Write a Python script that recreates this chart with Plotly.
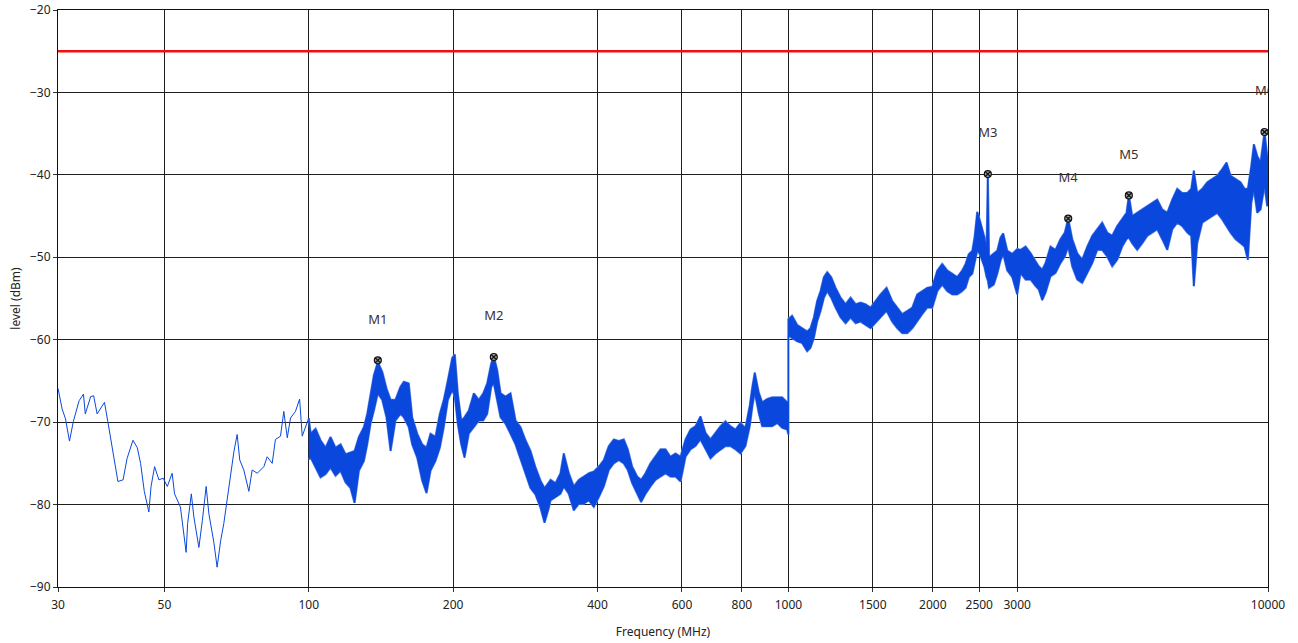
import plotly.graph_objects as go

# ---------------- data ----------------
# low-frequency part (single trace)
freq_lf = [30.0, 30.6, 31.1, 31.7, 32.3, 33.2, 33.9, 34.2, 35.1, 35.6, 36.2, 37.5, 38.1, 38.7,
           40.0, 41.0, 41.8, 43.0, 43.9, 44.6, 45.4, 46.4, 46.9, 47.7, 48.7, 49.7, 50.7, 51.9,
           52.5, 54.0, 54.7, 55.5, 55.9, 56.9, 57.6, 59.0, 60.0, 61.1, 61.9, 63.4, 64.4, 65.5,
           66.5, 67.6, 68.7, 69.8, 70.9, 71.8, 73.2, 75.0, 76.2, 78.1, 80.6, 81.9, 83.9, 85.2,
           87.3, 88.7, 90.2, 91.6, 93.8, 95.7, 96.9, 98.5]
level_lf = [-65.9, -68.4, -69.6, -72.3, -69.9, -67.4, -66.6, -69.0, -66.9, -66.8, -69.0, -67.6,
            -69.9, -72.3, -77.2, -77.0, -74.4, -72.2, -73.1, -75.0, -78.4, -80.9, -77.8, -75.4,
            -77.0, -76.8, -77.8, -76.2, -78.7, -80.3, -83.1, -85.8, -82.3, -78.7, -81.5, -85.2,
            -81.9, -77.8, -81.1, -84.6, -87.6, -84.4, -82.3, -79.5, -76.2, -73.6, -71.5, -74.6,
            -75.8, -78.4, -75.8, -76.2, -75.4, -74.2, -75.0, -72.1, -71.7, -68.7, -71.9, -69.5,
            -68.7, -67.2, -71.7, -70.5]

# higher-frequency part: noisy band, upper and lower envelope (dBm)
freq_hf = [100.0, 100.9, 103.3, 105.8, 108.4, 111.0, 113.7, 116.5, 119.3, 122.2, 124.6, 127.2,
           130.3, 132.4, 134.5, 136.7, 139.3, 142.3, 145.2, 148.1, 151.6, 155.3, 157.8, 161.6,
           164.3, 168.3, 172.4, 176.0, 179.4, 183.7, 187.6, 191.2, 195.0, 199.1, 201.6, 204.5,
           207.9, 211.2, 215.6, 220.9, 226.2, 231.1, 235.5, 240.1, 243.1, 247.1, 251.1, 257.2,
           263.4, 269.8, 276.3, 283.1, 289.9, 297.0, 304.2, 310.1, 316.6,
           319.2, 326.9, 334.8, 340.2, 348.5, 356.9, 365.6, 374.4, 383.6, 392.9, 402.4, 412.2,
           422.3, 432.5, 443.0, 453.7, 462.5, 472.4, 483.9, 493.2, 503.6, 515.8, 528.3, 541.2,
           554.3, 567.8, 581.5, 595.8, 610.3, 625.1, 640.2, 655.7, 671.7, 688.0, 704.6, 721.7,
           739.2, 757.2, 775.6, 794.3, 813.6, 830.6, 841.6, 851.0, 867.4, 881.7, 903.1, 925.0,
           947.9, 970.8, 994.3, 1000.0, 1000.0,
           1018, 1043, 1068, 1094, 1112, 1130, 1148, 1167, 1186, 1205, 1228, 1254, 1285, 1316,
           1348, 1381, 1414, 1448, 1484, 1520, 1556, 1602, 1646, 1687, 1727, 1770, 1813, 1856,
           1901, 1948, 1995, 2044, 2093, 2144, 2196, 2249, 2304, 2341, 2378, 2418, 2444, 2476,
           2507, 2536, 2564, 2590, 2605, 2620, 2681, 2726, 2769, 2805, 2860, 2929, 3000,
           3048, 3123, 3199, 3277, 3327, 3383, 3437, 3520, 3605, 3693, 3770, 3832, 3907, 4001,
           4098, 4199, 4301, 4405, 4511, 4621, 4734, 4848, 4966, 5070, 5127, 5211, 5337, 5466,
           5601, 5737, 5876, 6018, 6165, 6315, 6468, 6625, 6787, 6918, 7004, 7118, 7291, 7468,
           7650, 7836, 8027, 8195, 8353, 8558, 8766, 8936, 9079, 9229, 9344, 9496, 9649, 9835,
           9963, 10000]
level_hi = [-69.5, -71.4, -70.8, -72.2, -73.1, -71.8, -73.1, -72.7, -73.9, -73.7, -73.5, -71.8,
            -70.6, -69.0, -66.5, -64.3, -62.7, -63.9, -65.9, -67.3, -67.3, -65.7, -65.1, -65.3,
            -69.4, -71.4, -72.7, -73.1, -71.4, -71.8, -69.0, -67.3, -64.9, -62.2, -61.8, -66.5,
            -69.8, -69.4, -68.6, -66.5, -67.3, -66.5, -65.3, -62.9, -62.0, -63.7, -66.5, -66.9,
            -66.5, -69.8, -70.6, -72.2, -73.5, -75.5, -77.1, -78.0, -77.3,
            -77.0, -77.4, -76.2, -73.8, -76.2, -77.8, -77.0, -76.6, -76.2, -76.0, -75.4, -74.6,
            -72.9, -72.1, -72.3, -72.1, -73.3, -75.4, -76.6, -77.0, -76.2, -75.0, -74.2, -73.3,
            -73.3, -74.2, -73.8, -74.2, -72.1, -70.9, -70.5, -69.3, -71.3, -72.1, -71.3, -70.5,
            -69.9, -70.5, -70.9, -70.1, -70.7, -68.0, -65.6, -64.0, -66.4, -67.6, -67.2, -67.0,
            -67.0, -67.0, -67.6, -67.6, -57.5,
            -57.1, -58.2, -58.6, -59.0, -58.6, -57.3, -55.3, -54.1, -52.4, -51.8, -52.4, -53.7,
            -54.9, -55.7, -54.9, -55.7, -55.5, -55.7, -56.1, -55.3, -54.5, -53.7, -55.3, -56.1,
            -56.9, -56.5, -56.1, -54.5, -54.1, -53.7, -53.6, -51.6, -50.8, -51.6, -52.0, -52.4,
            -51.6, -50.8, -49.6, -49.2, -47.6, -44.5, -45.5, -46.7, -47.6, -49.2, -39.9, -50.0,
            -49.6, -49.2, -47.6, -47.1, -49.2, -49.6, -49.0,
            -49.1, -48.7, -49.5, -50.5, -51.1, -51.5, -50.7, -48.7, -49.1, -47.8, -47.0, -45.3,
            -47.8, -49.5, -50.3, -48.7, -47.4, -46.6, -45.8, -47.0, -47.4, -46.2, -45.4, -44.6,
            -42.5, -45.0, -44.6, -44.2, -43.8, -43.4, -43.0, -44.2, -44.6, -43.0, -41.7, -42.2,
            -42.2, -41.7, -39.5, -42.2, -41.7, -40.9, -40.5, -40.1, -39.3, -38.5, -40.1, -40.5,
            -40.9, -41.7, -41.7, -38.9, -36.3, -37.7, -38.5, -34.8, -37.7, -39.7]
level_lo = [-74.5, -74.3, -75.5, -76.7, -76.3, -75.5, -76.5, -75.9, -77.3, -78.0, -79.8, -75.9,
            -74.7, -72.7, -70.2, -68.6, -66.5, -67.3, -69.4, -73.5, -69.8, -69.0, -69.4, -70.6,
            -72.7, -74.3, -77.1, -78.6, -75.9, -74.7, -73.1, -70.6, -67.3, -66.1, -66.9, -70.2,
            -72.7, -74.3, -71.4, -70.6, -69.8, -69.8, -69.0, -65.7, -65.3, -67.3, -69.4, -70.2,
            -71.4, -72.7, -74.3, -76.3, -78.0, -78.8, -80.4, -82.2, -80.4,
            -79.5, -79.1, -78.7, -77.8, -78.7, -80.7, -79.9, -79.9, -79.5, -80.3, -79.1, -77.8,
            -75.8, -75.0, -74.6, -75.0, -75.8, -77.4, -78.7, -79.7, -78.7, -77.8, -77.0, -76.6,
            -76.2, -76.6, -76.6, -77.2, -74.2, -73.3, -72.9, -72.1, -73.3, -74.4, -73.8, -73.3,
            -72.9, -72.9, -73.3, -73.8, -72.9, -70.5, -68.0, -66.4, -68.9, -70.5, -70.5, -70.5,
            -70.1, -70.7, -70.9, -71.5, -59.5,
            -59.8, -60.2, -60.4, -61.4, -61.0, -59.8, -57.8, -56.5, -54.9, -54.1, -54.9, -56.1,
            -57.3, -58.0, -57.3, -58.0, -57.8, -58.2, -58.6, -58.0, -57.3, -56.5, -57.8, -58.6,
            -59.2, -59.2, -58.6, -57.8, -56.9, -56.1, -56.1, -54.1, -53.3, -54.1, -54.5, -54.5,
            -54.1, -53.7, -52.4, -52.0, -50.8, -49.2, -49.6, -50.4, -51.2, -52.4, -52.8, -53.7,
            -53.3, -52.0, -50.4, -49.6, -51.6, -52.4, -54.5,
            -51.9, -52.7, -52.7, -53.5, -53.9, -55.2, -54.3, -52.3, -51.9, -50.7, -49.9, -48.7,
            -51.1, -52.7, -53.1, -51.9, -50.7, -49.1, -49.1, -49.9, -51.1, -50.3, -48.7, -47.8,
            -47.6, -48.3, -49.1, -48.3, -47.4, -47.0, -46.6, -47.8, -49.1, -46.6, -45.8, -46.2,
            -47.0, -47.4, -53.5, -48.3, -45.8, -45.4, -45.0, -44.6, -45.4, -46.2, -47.0, -47.8,
            -48.3, -48.7, -50.3, -43.4, -41.7, -44.6, -44.2, -41.3, -43.8, -43.0]

# limit line
limit_freq = [30, 10000]
limit_level = [-25, -25]

# markers
marker_names = ["M1", "M2", "M3", "M4", "M5", "M6"]
marker_freq = [139.3, 243.1, 2605, 3832, 5127, 9835]
marker_level = [-62.5, -62.1, -39.9, -45.3, -42.5, -34.8]

# axis ticks
x_tickvals = [30, 50, 100, 200, 400, 600, 800, 1000, 1500, 2000, 2500, 3000, 10000]
x_ticktext = [str(v) for v in x_tickvals]
y_tickvals = [-90, -80, -70, -60, -50, -40, -30, -20]

# ---------------- figure ----------------
BLUE = "#0A47DC"
HALO = "#5f86e6"
FONT = "Noto Sans"
TEXT = "#222222"
Y_RANGE = [-90, -20]
LABEL_SHIFT = 4.85  # label offset above marker, in dB (style)

fig = go.Figure()

fig.add_trace(go.Scatter(
    x=freq_lf + [freq_hf[0]], y=level_lf + [level_hi[0]],
    mode="lines", line=dict(color=BLUE, width=1), hoverinfo="skip"))

# soft halo under the band edge
fig.add_trace(go.Scatter(
    x=freq_hf + freq_hf[::-1], y=level_hi + level_lo[::-1],
    mode="lines", line=dict(color=HALO, width=2.2), hoverinfo="skip"))

fig.add_trace(go.Scatter(
    x=freq_hf + freq_hf[::-1], y=level_hi + level_lo[::-1],
    mode="lines", fill="toself", fillcolor=BLUE,
    line=dict(color=BLUE, width=1), hoverinfo="skip"))

fig.add_trace(go.Scatter(
    x=limit_freq, y=limit_level, mode="lines",
    line=dict(color="#EE1111", width=2.5), hoverinfo="skip"))

fig.add_trace(go.Scatter(
    x=marker_freq, y=marker_level, mode="markers",
    marker=dict(symbol="circle-x", size=7, color="#9a9a9a",
                line=dict(color="#111111", width=1.2)),
    hoverinfo="skip"))

fig.add_trace(go.Scatter(
    x=marker_freq, y=marker_level, yaxis="y2", mode="text",
    text=marker_names, textposition="middle center", cliponaxis=True,
    textfont=dict(family=FONT, size=13, color="#3a3030"), hoverinfo="skip"))

axis_common = dict(
    showgrid=True, gridcolor="#1e1e1e", gridwidth=1,
    showline=True, linecolor="#111111", linewidth=1, mirror=True,
    ticks="outside", ticklen=4, tickcolor="#333333",
    tickfont=dict(family=FONT, size=12, color=TEXT),
    zeroline=False, automargin=False,
)

fig.update_layout(
    width=1298, height=643,
    margin=dict(l=58, r=30, t=10, b=56),
    paper_bgcolor="white", plot_bgcolor="white",
    showlegend=False, hovermode=False,
    xaxis=dict(type="log", range=[1.4771213, 4.0],
               tickvals=x_tickvals, ticktext=x_ticktext, ticklabelstandoff=3,
               title=dict(text="Frequency (MHz)", standoff=15,
                          font=dict(family=FONT, size=12, color=TEXT)),
               **axis_common),
    yaxis=dict(range=Y_RANGE, tickvals=y_tickvals,
               title=dict(text="level (dBm)", standoff=6,
                          font=dict(family=FONT, size=12, color=TEXT)),
               **axis_common),
    yaxis2=dict(range=[Y_RANGE[0] - LABEL_SHIFT, Y_RANGE[1] - LABEL_SHIFT],
                overlaying="y", visible=False),
)

# remove the default 8px page margin so the figure fills the window exactly
fig.write_html("out.html", config={"displayModeBar": False},
               post_script="document.body.style.margin='0';")
